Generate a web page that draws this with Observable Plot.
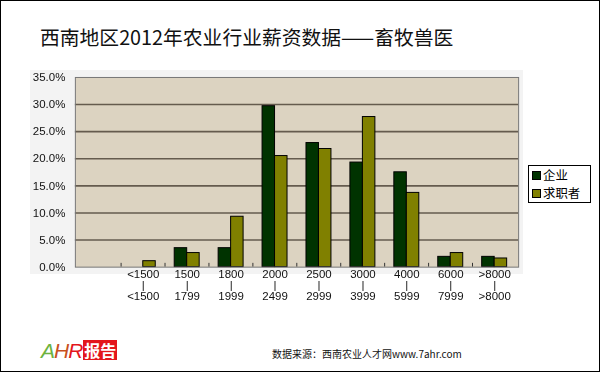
<!DOCTYPE html>
<html>
<head>
<meta charset="utf-8">
<script src="https://cdn.jsdelivr.net/npm/d3@7"></script>
<script src="https://cdn.jsdelivr.net/npm/@observablehq/plot@0.6"></script>
<style>
  html, body { margin: 0; padding: 0; background: #fff; }
  #wrap { position: relative; width: 600px; height: 372px; box-sizing: border-box; border: 1px solid #000; overflow: hidden; font-family: "Noto Sans CJK SC", sans-serif; }
  #title { position: absolute; left: 39px; top: 26px; font-size: 19.8px; line-height: 1; color: #111; white-space: nowrap; }
  #panel { position: absolute; left: 29px; top: 69px; width: 493px; height: 204px; background: #f3f3f3; }
  #chart { position: absolute; left: -1px; top: 59px; will-change: transform; }
  #legend { position: absolute; left: 527px; top: 164px; width: 58px; height: 36px; border: 1px solid #000; background: #fff; font-size: 12.4px; padding: 0 0 0 3px; }
  #legend .row { display: flex; align-items: center; white-space: nowrap; height: 18px; }
  #legend .lbl { line-height: 18px; display: block; }
  #legend .sw { width: 7px; height: 7px; border: 1px solid #000; margin-right: 2px; flex: none; }
  #source { position: absolute; left: 271px; top: 345px; font-size: 10px; line-height: 15px; color: #111; white-space: nowrap; font-family: "Noto Sans CJK SC", "DejaVu Serif", serif; }
  #logo { position: absolute; left: 40px; top: 338px; height: 22px; display: flex; align-items: center; white-space: nowrap; }
  #logo .ahr { font-family: "Liberation Sans", sans-serif; font-style: italic; font-size: 21px; letter-spacing: -1px; line-height: 1; }
  #logo .bg { background: #e3161c; color: #fff; font-weight: bold; font-size: 16px; line-height: 20px; padding: 0 1px; margin-left: 1px; }
</style>
</head>
<body>
<div id="wrap">
  <div id="title"></div>
  <div id="panel"></div>
  <div id="chart"></div>
  <div id="legend"></div>
  <div id="logo"><span class="ahr"><span style="color:#6db33f">A</span><span style="color:#c8501e">H</span><span style="color:#e3161c">R</span></span><span class="bg">报告</span></div>
  <div id="source"></div>
</div>
<script>
const titleText = "西南地区2012年农业行业薪资数据——畜牧兽医";
const sourceText = "数据来源：西南农业人才网www.7ahr.com";
const seriesNames = ["企业", "求职者"];
const seriesColors = ["#003300", "#808000"];
const rangeLow  = ["", "<1500", "1500", "1800", "2000", "2500", "3000", "4000", "6000", ">8000"];
const rangeHigh = ["", "<1500", "1799", "1999", "2499", "2999", "3999", "5999", "7999", ">8000"];
const enterprise = [null, 0, 3.5, 3.5, 29.7, 22.9, 19.3, 17.5, 1.9, 1.9];
const seekers    = [null, 1.1, 2.6, 9.3, 20.5, 21.8, 27.7, 13.7, 2.6, 1.6];
const yTicks = [0, 5, 10, 15, 20, 25, 30, 35];

document.getElementById("title").textContent = titleText;
document.getElementById("source").textContent = sourceText;
document.getElementById("legend").innerHTML = seriesNames.map((n, i) =>
  `<div class="row"><span class="sw" style="background:${seriesColors[i]}"></span><span class="lbl">${n}</span></div>`).join("");

const idx = d3.range(rangeLow.length);
const rows = idx.map(i => ({i, ent: enterprise[i], seek: seekers[i]}));

const chart = Plot.plot({
  width: 600,
  height: 250,
  marginLeft: 75,
  marginRight: 81,
  marginTop: 17,
  marginBottom: 43,
  style: {background: "transparent", fontFamily: "'Liberation Sans', 'DejaVu Sans', sans-serif", fontSize: "11.5px", color: "#111"},
  x: {domain: idx, padding: 0, label: null},
  y: {domain: [0, 35], label: null},
  marks: [
    Plot.frame({fill: "#dcd3c1", stroke: null}),
    Plot.ruleY(yTicks.filter(t => t > 0 && t < 35), {stroke: "#655b4e", strokeWidth: 1.6}),
    Plot.barY(rows.filter(d => d.ent != null), {x: "i", y: "ent", fill: seriesColors[0], stroke: "#000", strokeWidth: 1, insetLeft: 9.5, insetRight: 22}),
    Plot.barY(rows.filter(d => d.seek != null), {x: "i", y: "seek", fill: seriesColors[1], stroke: "#000", strokeWidth: 1, insetLeft: 22, insetRight: 9.5}),
    Plot.ruleX(idx.slice(1), {x: d => d, dx: -22.2, y1: 0, y2: 0.7, stroke: "#333"}),
    Plot.frame({stroke: "#777", strokeWidth: 1}),
    Plot.axisY({ticks: yTicks, tickSize: 0, tickPadding: 10, fill: "#111", tickFormat: d => d.toFixed(1) + "%"}),
    Plot.axisX({tickSize: 0, tickPadding: 3, lineHeight: 0.97, fill: "#111", tickFormat: i => rangeLow[i] ? rangeLow[i] + "\n|\n" + rangeHigh[i] : ""})
  ]
});
document.getElementById("chart").appendChild(chart);
</script>
</body>
</html>
